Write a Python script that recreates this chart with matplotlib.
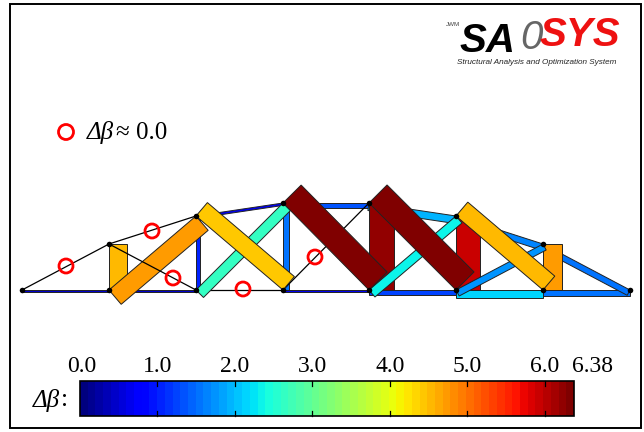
import numpy as np
import matplotlib
matplotlib.use('Agg')
import matplotlib.pyplot as plt
from matplotlib.patches import Polygon, Circle, Rectangle

plt.rcParams['font.family'] = ['Liberation Serif', 'DejaVu Sans']

# truss nodes, measured in image pixels
node_x = [22, 109, 196, 283, 369, 456, 543, 630, 109, 196, 283, 369, 456, 543]
node_y = [290, 290, 290, 290, 290, 290, 290, 290, 244, 216, 203, 203, 216, 244]

# members in drawing order: start node, end node, delta beta, side of the band
member_a = [0, 1, 2, 3, 4, 5, 6,
            0, 8, 9, 10, 11, 12, 13,
            1, 2, 3, 4, 5, 6,
            2, 3, 4, 5,
            1, 9, 10, 11, 12, 8]
member_b = [1, 2, 3, 4, 5, 6, 7,
            8, 9, 10, 11, 12, 13, 7,
            8, 9, 10, 11, 12, 13,
            10, 11, 12, 13,
            9, 3, 4, 5, 6, 2]
member_v = [0.4, 0.45, 0.0, 0.6, 1.2, 2.1, 1.5,
            0.0, 0.0, 0.6, 1.3, 1.9, 1.6, 1.5,
            4.5, 1.0, 1.5, 6.25, 5.9, 4.75,
            2.65, 0.0, 2.3, 1.7,
            4.7, 4.4, 6.38, 6.38, 4.55, 0.0]
member_s = [1, 1, 1, 1, 1, 1, 1,
            1, 1, 1, 1, 1, 1, 1,
            1, 1, 1, 1, 1, 1,
            1, 1, 1, 1,
            1, -1, -1, -1, -1, 1]

# members with almost no change
circle_x = [66, 152, 173, 243, 315]
circle_y = [266, 231, 278, 289, 257]

bar_ticks = [0.0, 1.0, 2.0, 3.0, 4.0, 5.0, 6.0, 6.38]
bar_labels = ['0.0', '1.0', '2.0', '3.0', '4.0', '5.0', '6.0', '6.38']
v_max = 6.38
px_per_unit = 4.0

fig = plt.figure(figsize=(6.44, 4.32), dpi=100)
ax = fig.add_axes([0, 0, 1, 1])
ax.set_xlim(0, 644)
ax.set_ylim(432, 0)
ax.axis('off')

jet = plt.get_cmap('jet', 64)

# Frame
ax.add_patch(Rectangle((10.5, 3.5), 631, 424, fill=False, ec='black', lw=1.4, zorder=1))

# Bands
for i in range(len(member_a)):
    x0, y0 = node_x[member_a[i]], node_y[member_a[i]]
    x1, y1 = node_x[member_b[i]], node_y[member_b[i]]
    v = member_v[i]
    z = 10 + i * 0.01
    if v == 0:
        ax.plot([x0, x1], [y0, y1], color='black', lw=0.9, zorder=z)
        continue
    d = np.array([x1 - x0, y1 - y0], dtype=float)
    d = d / np.hypot(d[0], d[1])
    n = np.array([-d[1], d[0]]) * member_s[i] * v * px_per_unit
    pts = [(x0, y0), (x1, y1), (x1 + n[0], y1 + n[1]), (x0 + n[0], y0 + n[1])]
    ax.add_patch(Polygon(pts, closed=True, fc=jet(v / v_max), ec='#222222', lw=0.7, zorder=z))

# Nodes
ax.scatter(node_x, node_y, s=16, color='black', zorder=20, linewidths=0)

# Circles for the zero change members
for x, y in zip(circle_x, circle_y):
    ax.add_patch(Circle((x, y), 7, fill=False, ec='red', lw=2.0, zorder=21))

# Legend note
ax.add_patch(Circle((66, 132), 7.5, fill=False, ec='red', lw=2.0, zorder=21))
ax.text(87, 133, 'Δβ', fontsize=18, style='italic', va='center', ha='left')
ax.text(116, 133, '≈ 0.0', fontsize=18, va='center', ha='left')

# Colorbar
bar_x0, bar_x1 = 80, 574
bar_y0, bar_y1 = 381, 416
grad = np.linspace(0, 1, 64).reshape(1, -1)
ax.imshow(grad, cmap=jet, extent=[bar_x0, bar_x1, bar_y1, bar_y0], aspect='auto', zorder=5)
ax.set_xlim(0, 644)
ax.set_ylim(432, 0)
ax.add_patch(Rectangle((bar_x0, bar_y0), bar_x1 - bar_x0, bar_y1 - bar_y0, fill=False, ec='black', lw=1.2, zorder=6))
for t, lab in zip(bar_ticks, bar_labels):
    tx = bar_x0 + (bar_x1 - bar_x0) * t / v_max
    if t != 0 and t != v_max:
        ax.plot([tx, tx], [bar_y0, bar_y0 + 5], color='black', lw=0.9, zorder=7)
        ax.plot([tx, tx], [bar_y1 - 5, bar_y1], color='black', lw=0.9, zorder=7)
    if lab == '6.38':
        tx = tx + 19
    elif lab == '0.0':
        tx = tx + 2
    ax.text(tx, 367, lab, fontsize=17, ha='center', va='center')
ax.text(33, 400, 'Δβ', fontsize=18, style='italic', va='center', ha='left')
ax.text(61, 400, ':', fontsize=18, va='center', ha='left')

# Logo
ax.text(460, 41, 'SA', fontsize=29, family='Liberation Sans', weight='bold', style='italic',
        color='black', va='center', ha='left')
ax.text(520, 38, '0', fontsize=29, family='Liberation Sans', style='italic',
        color='#666666', va='center', ha='left')
ax.text(540, 35, 'SYS', fontsize=29, family='Liberation Sans', weight='bold', style='italic',
        color='#ee1111', va='center', ha='left')
ax.text(457, 63, 'Structural Analysis and Optimization System', fontsize=5.9,
        family='Liberation Sans', style='italic', color='#222222', va='center', ha='left')
ax.text(446, 24, 'JWM', fontsize=4.5, family='Liberation Sans', color='#444444', va='center', ha='left')

fig.savefig('out.png', dpi=100)
